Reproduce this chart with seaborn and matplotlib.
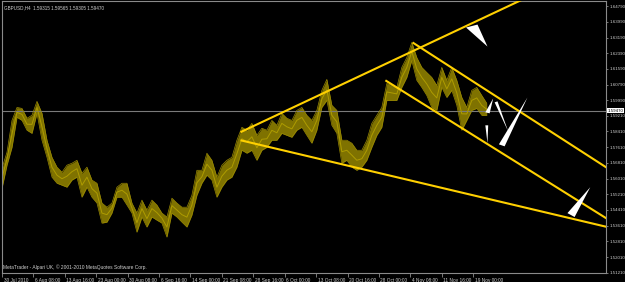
import matplotlib
matplotlib.use("Agg")
import matplotlib.pyplot as plt
import matplotlib.transforms as mtransforms
import pandas as pd
import seaborn as sns

# H4 bar number of each sample (one reading every 7 bars)
BARS = list(range(0, 686, 7))
HIGHS = [
    1.5654, 1.5735, 1.5897, 1.5963, 1.5958, 1.5908, 1.5923, 1.5994, 1.5933, 1.5796,
    1.5709, 1.5659, 1.5633, 1.5669, 1.5679, 1.5694, 1.5628, 1.5659, 1.5593, 1.5577,
    1.5476, 1.5455, 1.5476, 1.5557, 1.5577, 1.5577, 1.5476, 1.5425, 1.5491, 1.5440,
    1.5491, 1.5466, 1.5425, 1.5405, 1.5501, 1.5476, 1.5455, 1.5455, 1.5516, 1.5643,
    1.5643, 1.5730, 1.5694, 1.5608, 1.5669, 1.5694, 1.5709, 1.5796, 1.5862, 1.5847,
    1.5882, 1.5821, 1.5857, 1.5847, 1.5897, 1.5872, 1.5933, 1.5908, 1.5897, 1.5948,
    1.5963, 1.5923, 1.5897, 1.5948, 1.6050, 1.6106, 1.5974, 1.5948, 1.5796, 1.5796,
    1.5781, 1.5745, 1.5745, 1.5796, 1.5882, 1.5923, 1.5963, 1.6085, 1.6075, 1.6065,
    1.6167, 1.6217, 1.6294, 1.6217, 1.6167, 1.6141, 1.6116, 1.6075, 1.6167, 1.6101,
    1.6167, 1.6101, 1.6014, 1.5963, 1.6050, 1.6065, 1.6024, 1.5984,
]
LOWS = [
    1.5552, 1.5669, 1.5760, 1.5913, 1.5897, 1.5847, 1.5831, 1.5933, 1.5796, 1.5709,
    1.5608, 1.5577, 1.5567, 1.5557, 1.5593, 1.5608, 1.5506, 1.5557, 1.5506, 1.5476,
    1.5374, 1.5379, 1.5425, 1.5506, 1.5506, 1.5466, 1.5425, 1.5328, 1.5405, 1.5354,
    1.5405, 1.5389, 1.5374, 1.5303, 1.5425, 1.5405, 1.5379, 1.5354, 1.5415, 1.5516,
    1.5577, 1.5618, 1.5593, 1.5506, 1.5557, 1.5593, 1.5608, 1.5659, 1.5745, 1.5730,
    1.5745, 1.5694, 1.5745, 1.5760, 1.5796, 1.5796, 1.5831, 1.5821, 1.5811, 1.5847,
    1.5862, 1.5821, 1.5781, 1.5847, 1.5963, 1.5999, 1.5872, 1.5831, 1.5679, 1.5694,
    1.5659, 1.5643, 1.5659, 1.5694, 1.5760, 1.5821, 1.5862, 1.5999, 1.5999, 1.5999,
    1.6065, 1.6116, 1.6202, 1.6101, 1.6065, 1.6024, 1.5963, 1.5948, 1.6065, 1.6014,
    1.6050, 1.5974, 1.5847, 1.5897, 1.5948, 1.5958, 1.5923, 1.5923,
]

TIME_TICKS = list(range(0, 661, 44))
TIME_LABELS = [
    "30 Jul 2010", "6 Aug 08:00", "13 Aug 16:00", "23 Aug 00:00", "30 Aug 08:00",
    "6 Sep 16:00", "14 Sep 00:00", "21 Sep 08:00", "28 Sep 16:00", "6 Oct 00:00",
    "13 Oct 08:00", "20 Oct 16:00", "28 Oct 00:00", "4 Nov 08:00", "11 Nov 16:00",
    "19 Nov 00:00",
]
PRICE_TICKS = [
    1.64790, 1.63990, 1.63190, 1.62390, 1.61590, 1.60790, 1.59990, 1.59210,
    1.58410, 1.57610, 1.56810, 1.56010, 1.55210, 1.54410, 1.53610, 1.52810,
    1.52010, 1.51210,
]
LAST_PRICE = 1.59470
HEADER = "GBPUSD,H4  1.59315 1.59565 1.59305 1.59470"
FOOTER = "MetaTrader - Alpari UK, \u00a9 2001-2010 MetaQuotes Software Corp."

# trend lines: (bars, prices)
RISING_TOP_BARS = [334, 800]
RISING_TOP_PRICES = [1.5837, 1.6634]
FALLING_BOTTOM_BARS = [334, 848]
FALLING_BOTTOM_PRICES = [1.5796, 1.5354]
CHANNEL_TOP_BARS = [575, 848]
CHANNEL_TOP_PRICES = [1.6294, 1.5654]
CHANNEL_BOTTOM_BARS = [537, 848]
CHANNEL_BOTTOM_PRICES = [1.6101, 1.5395]

# white arrow wedges drawn on the chart: (bars, prices)
ARROW_BARS = [
    [650, 666, 680],
    [677, 683, 688],
    [690, 694, 709],
    [696, 704, 736],
    [677, 681, 680],
    [792, 802, 824],
]
ARROW_PRICES = [
    [1.6370, 1.6385, 1.6273],
    [1.5938, 1.5933, 1.6009],
    [1.5989, 1.5994, 1.5841],
    [1.5775, 1.5765, 1.6014],
    [1.5872, 1.5872, 1.5781],
    [1.5425, 1.5405, 1.5557],
]

sns.set_theme(style="dark")
plt.rcParams["font.family"] = ["Liberation Sans", "DejaVu Sans"]

fig = plt.figure(figsize=(6.25, 2.82), dpi=100, facecolor="black")
ax = fig.add_axes([2 / 625, 9 / 282, 604 / 625, 272 / 282])
ax.set_facecolor("black")

bars = pd.DataFrame({"bar": BARS, "high": HIGHS, "low": LOWS})
bars["mid"] = (bars["high"] + bars["low"]) / 2

ax.fill_between(bars["bar"], bars["low"], bars["high"], color="#7f7200", lw=0)
sns.lineplot(data=bars, x="bar", y="high", color="#9a8a00", lw=0.5, ax=ax)
sns.lineplot(data=bars, x="bar", y="low", color="#9a8a00", lw=0.5, ax=ax)
sns.lineplot(data=bars, x="bar", y="mid", color="#ae9c00", lw=0.7, ax=ax)

ax.axhline(LAST_PRICE, color="#7a7a7a", lw=0.8, zorder=1)

gold = "#ffd000"
for xs, ys in [
    (RISING_TOP_BARS, RISING_TOP_PRICES),
    (FALLING_BOTTOM_BARS, FALLING_BOTTOM_PRICES),
    (CHANNEL_TOP_BARS, CHANNEL_TOP_PRICES),
    (CHANNEL_BOTTOM_BARS, CHANNEL_BOTTOM_PRICES),
]:
    ax.plot(xs, ys, color=gold, lw=1.5, solid_capstyle="butt", zorder=3)

for xs, ys in zip(ARROW_BARS, ARROW_PRICES):
    ax.fill(xs, ys, color="white", lw=0, zorder=4)

ax.set_xlim(0, 846)
ax.set_ylim(1.5120, 1.6505)
ax.set_xlabel("")
ax.set_ylabel("")
ax.grid(False)

for side in ["left", "right", "top", "bottom"]:
    ax.spines[side].set_visible(True)
    ax.spines[side].set_color("#8a8a8a")
    ax.spines[side].set_linewidth(0.8)

small = 3.2

ax.yaxis.tick_right()
ax.set_yticks(PRICE_TICKS)
ax.set_yticklabels([f"{p:.5f}" for p in PRICE_TICKS])
ax.tick_params(axis="y", right=True, length=1.5, width=0.6, color="#8a8a8a",
               labelsize=small, labelcolor="#cfcfcf", pad=0.8)

ax.set_xticks(TIME_TICKS)
ax.set_xticklabels(TIME_LABELS)
ax.tick_params(axis="x", bottom=True, length=3, width=0.6, color="#8a8a8a",
               labelsize=3.4, labelcolor="#cfcfcf", pad=0.5)
offset = mtransforms.ScaledTranslation(1.5 / 100, 0, fig.dpi_scale_trans)
for lab in ax.get_xticklabels():
    lab.set_horizontalalignment("left")
    lab.set_transform(lab.get_transform() + offset)

price_tf = mtransforms.blended_transform_factory(ax.transAxes, ax.transData)
ax.text(1.003, LAST_PRICE, f"{LAST_PRICE:.5f}", transform=price_tf, fontsize=small,
        color="black", va="center", ha="left", clip_on=False,
        bbox=dict(boxstyle="square,pad=0.1", facecolor="white", edgecolor="none"))

ax.text(0.004, 0.985, HEADER, transform=ax.transAxes, fontsize=3.3,
        color="#cfcfcf", va="top", ha="left")
ax.text(0.002, 0.012, FOOTER, transform=ax.transAxes, fontsize=3.5,
        color="#cfcfcf", va="bottom", ha="left")

fig.savefig("out.png", dpi=100, facecolor="black")
